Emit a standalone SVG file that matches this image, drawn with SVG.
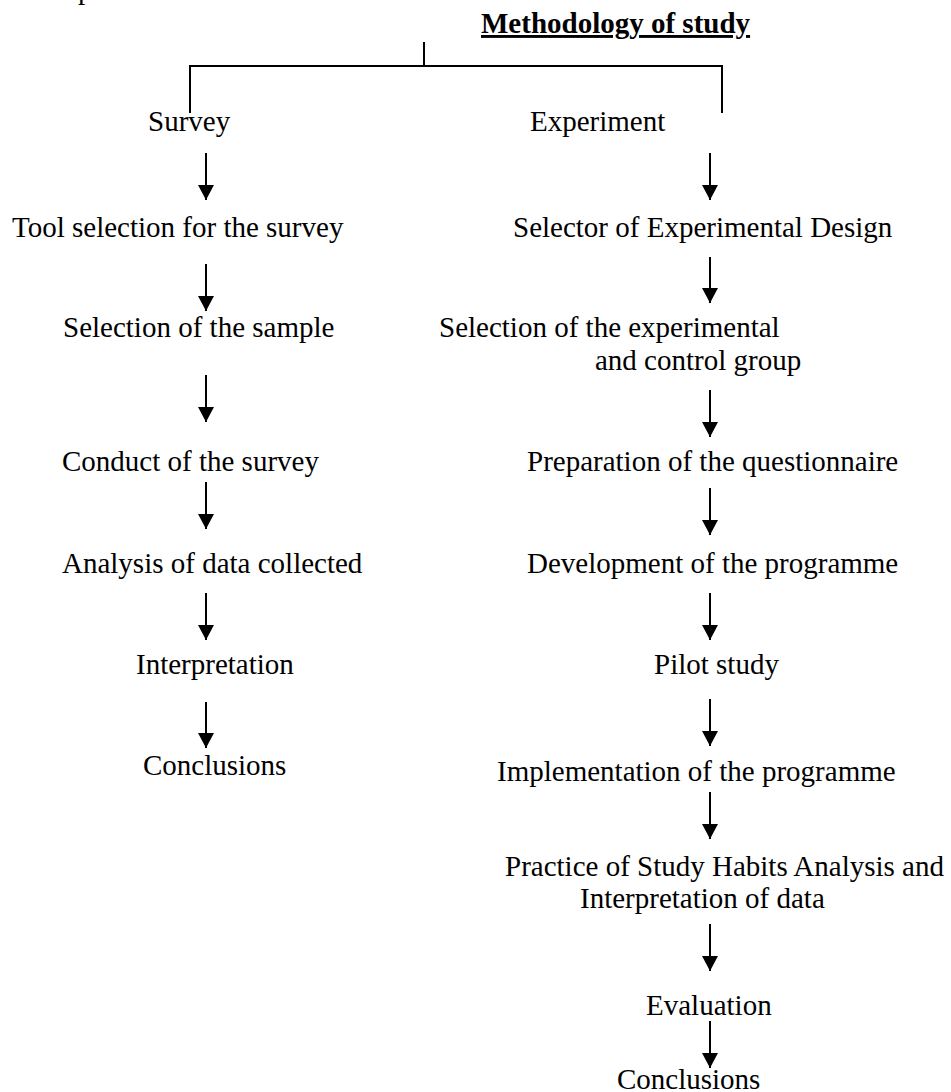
<svg xmlns="http://www.w3.org/2000/svg" width="951" height="1092" viewBox="0 0 951 1092">
<style>
text{font-family:"Liberation Serif","Times New Roman",serif;font-size:29px;fill:#000}
.title{font-weight:bold;text-decoration:underline}
.ln{stroke:#000;stroke-width:2;fill:none}
.ar{stroke:#000;stroke-width:2;fill:none;marker-end:url(#ah)}
</style>
<defs>
<marker id="ah" markerUnits="userSpaceOnUse" markerWidth="16" markerHeight="16" refX="14" refY="7.5" orient="auto" viewBox="0 0 14 15">
<path d="M0,0 L14,7.5 L0,15 Z" fill="#000"/>
</marker>
</defs>
<rect width="951" height="1092" fill="#fff"/>
<text x="78" y="-1">p</text>
<g id="title"><text class="title" x="481" y="33">Methodology of study</text></g>
<g id="connectors">
<line class="ln" x1="424" y1="42" x2="424" y2="66"/>
<line class="ln" x1="190" y1="66" x2="722" y2="66"/>
<line class="ln" x1="190" y1="65" x2="190" y2="113"/>
<line class="ln" x1="722" y1="65" x2="722" y2="113"/>
<line class="ar" x1="206" y1="153" x2="206" y2="200"/>
<line class="ar" x1="206" y1="264" x2="206" y2="311"/>
<line class="ar" x1="206" y1="375" x2="206" y2="422"/>
<line class="ar" x1="206" y1="482" x2="206" y2="529"/>
<line class="ar" x1="206" y1="593" x2="206" y2="640"/>
<line class="ar" x1="206" y1="702" x2="206" y2="748"/>
<line class="ar" x1="710" y1="153" x2="710" y2="200"/>
<line class="ar" x1="710" y1="257" x2="710" y2="303"/>
<line class="ar" x1="710" y1="390" x2="710" y2="437"/>
<line class="ar" x1="710" y1="488" x2="710" y2="535"/>
<line class="ar" x1="710" y1="593" x2="710" y2="640"/>
<line class="ar" x1="710" y1="699" x2="710" y2="746"/>
<line class="ar" x1="710" y1="792" x2="710" y2="839"/>
<line class="ar" x1="710" y1="924" x2="710" y2="971"/>
<line class="ar" x1="710" y1="1021" x2="710" y2="1068"/>
</g>
<g id="survey"><text x="148" y="131">Survey</text></g>
<g id="experiment"><text x="530" y="131">Experiment</text></g>
<g id="s1"><text x="12" y="237">Tool selection for the survey</text></g>
<g id="s2"><text x="63" y="337">Selection of the sample</text></g>
<g id="s3"><text x="62" y="471">Conduct of the survey</text></g>
<g id="s4"><text x="62" y="573">Analysis of data collected</text></g>
<g id="s5"><text x="136" y="674">Interpretation</text></g>
<g id="s6"><text x="143" y="775">Conclusions</text></g>
<g id="e1"><text x="513" y="237">Selector of Experimental Design</text></g>
<g id="e2"><text x="439" y="337">Selection of the experimental</text><text x="595" y="370">and control group</text></g>
<g id="e3"><text x="527" y="471">Preparation of the questionnaire</text></g>
<g id="e4"><text x="527" y="573">Development of the programme</text></g>
<g id="e5"><text x="654" y="674">Pilot study</text></g>
<g id="e6"><text x="497" y="781">Implementation of the programme</text></g>
<g id="e7"><text x="505" y="876">Practice of Study Habits Analysis and</text><text x="580" y="908">Interpretation of data</text></g>
<g id="e8"><text x="646" y="1015">Evaluation</text></g>
<g id="e9"><text x="617" y="1089">Conclusions</text></g>
</svg>
